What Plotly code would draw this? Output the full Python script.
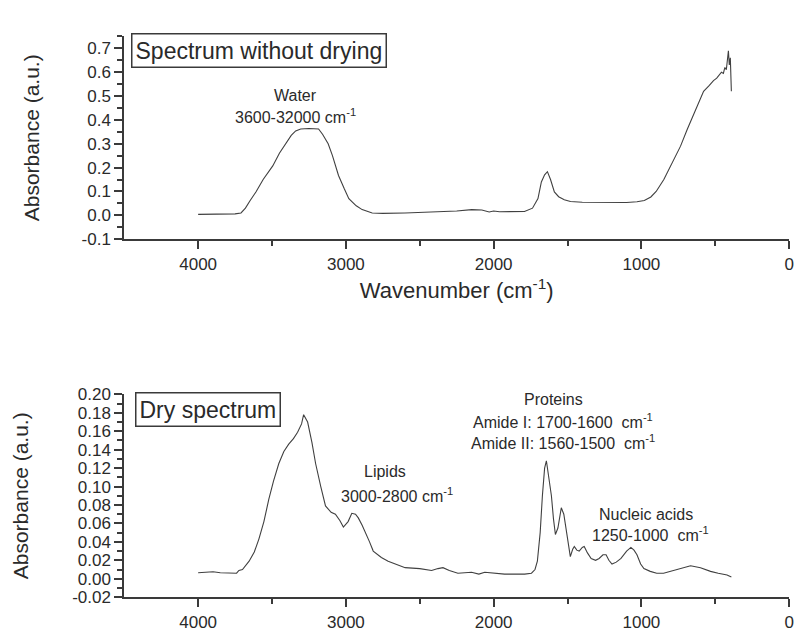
import plotly.graph_objects as go

# ---- Data: spectrum without drying (wavenumber cm-1, absorbance) ----
wet_wn = [4000, 3850, 3750, 3710, 3680, 3650, 3609, 3560, 3495, 3450, 3407, 3370, 3340, 3306,
          3250, 3185, 3158, 3120, 3091, 3050, 3010, 2980, 2930, 2890, 2822, 2750, 2600,
          2400, 2250, 2148, 2080, 2030, 2000, 1960, 1900, 1791, 1737, 1700, 1677, 1655,
          1636, 1615, 1589, 1560, 1522, 1480, 1400, 1253, 1100, 1030, 980, 936, 900, 848,
          800, 735, 690, 647, 579, 540, 512, 490, 470, 458, 445, 435, 425, 418, 411, 405,
          398, 391]
wet_abs = [0.004, 0.004, 0.006, 0.01, 0.03, 0.06, 0.098, 0.15, 0.207, 0.26, 0.30, 0.335, 0.354,
           0.362, 0.364, 0.362, 0.34, 0.30, 0.25, 0.167, 0.11, 0.07, 0.04, 0.024, 0.01,
           0.008, 0.01, 0.013, 0.018, 0.024, 0.022, 0.014, 0.018, 0.015, 0.016, 0.016,
           0.03, 0.07, 0.14, 0.17, 0.183, 0.15, 0.098, 0.078, 0.065, 0.058, 0.055, 0.053,
           0.054, 0.057, 0.062, 0.077, 0.10, 0.15, 0.21, 0.29, 0.36, 0.42, 0.52, 0.545,
           0.565, 0.575, 0.59, 0.60, 0.595, 0.62, 0.61, 0.645, 0.69, 0.63, 0.66, 0.52]

# ---- Data: dry spectrum ----
dry_wn = [4000, 3950, 3899, 3850, 3800, 3764, 3740, 3724, 3700, 3655, 3620, 3589, 3555,
          3522, 3490, 3454, 3420, 3387, 3355, 3327, 3300, 3286, 3259, 3230, 3205, 3170,
          3138, 3100, 3071, 3040, 3017, 2985, 2960, 2935, 2916, 2890, 2869, 2840, 2815,
          2760, 2714, 2650, 2599, 2500, 2420, 2377, 2343, 2300, 2242, 2150, 2100, 2060,
          2000, 1926, 1850, 1790, 1744, 1720, 1704, 1685, 1670, 1655, 1643, 1625, 1609,
          1595, 1582, 1565, 1542, 1525, 1508, 1495, 1481, 1465, 1454, 1437, 1421, 1400,
          1387, 1365, 1340, 1310, 1286, 1260, 1239, 1220, 1199, 1170, 1138, 1100, 1071,
          1050, 1030, 1005, 983, 940, 896, 850, 801, 740, 667, 600, 532, 480, 444, 420, 391]
dry_abs = [0.0065, 0.0068, 0.0075, 0.0065, 0.006, 0.0055, 0.006, 0.009, 0.01, 0.019,
           0.029, 0.043, 0.062, 0.086, 0.106, 0.125, 0.138, 0.146, 0.152, 0.159, 0.168,
           0.178, 0.17, 0.148, 0.125, 0.10, 0.079, 0.072, 0.07, 0.063, 0.056, 0.062, 0.071,
           0.07, 0.066, 0.058, 0.051, 0.04, 0.03, 0.023, 0.019, 0.015, 0.012, 0.011, 0.009,
           0.011, 0.012, 0.009, 0.006, 0.007, 0.005, 0.007, 0.006, 0.005, 0.005, 0.005,
           0.006, 0.01, 0.019, 0.05, 0.09, 0.12, 0.128, 0.11, 0.09, 0.065, 0.048, 0.055,
           0.077, 0.07, 0.051, 0.035, 0.024, 0.032, 0.035, 0.031, 0.03, 0.034, 0.035, 0.028,
           0.022, 0.02, 0.022, 0.026, 0.026, 0.02, 0.016, 0.018, 0.022, 0.03, 0.034, 0.031,
           0.026, 0.016, 0.011, 0.008, 0.006, 0.006, 0.008, 0.011, 0.014, 0.012, 0.008,
           0.006, 0.005, 0.004, 0.002]

x_ticks = [4000, 3000, 2000, 1000, 0]
x_tick_labels = ["4000", "3000", "2000", "1000", "0"]
y1_ticks = [-0.1, 0.0, 0.1, 0.2, 0.3, 0.4, 0.5, 0.6, 0.7]
y1_tick_labels = ["-0.1", "0.0", "0.1", "0.2", "0.3", "0.4", "0.5", "0.6", "0.7"]
y2_ticks = [-0.02, 0.0, 0.02, 0.04, 0.06, 0.08, 0.10, 0.12, 0.14, 0.16, 0.18, 0.20]
y2_tick_labels = ["-0.02", "0.00", "0.02", "0.04", "0.06", "0.08", "0.10", "0.12",
                  "0.14", "0.16", "0.18", "0.20"]

FONT = "Liberation Sans, Arial, sans-serif"
AX = "#3a3a3a"
TXT = "#2a2a2a"
W, H = 807, 637

def px_x(p):
    return p / W

def px_y(p):
    return 1 - p / H

fig = go.Figure()
fig.add_trace(go.Scatter(x=wet_wn, y=wet_abs, mode="lines", xaxis="x", yaxis="y",
                         line=dict(color="#404040", width=1.1), showlegend=False))
fig.add_trace(go.Scatter(x=dry_wn, y=dry_abs, mode="lines", xaxis="x2", yaxis="y2",
                         line=dict(color="#404040", width=1.1), showlegend=False))

def xaxis(domain, anchor, title=None):
    d = dict(domain=domain, anchor=anchor, range=[4500, 0], autorange=False,
             tickvals=x_ticks, ticktext=x_tick_labels,
             ticks="outside", ticklen=8, tickwidth=2, tickcolor=AX,
             showline=True, linecolor=AX, linewidth=2, showgrid=False, zeroline=False,
             minor=dict(tickvals=[3500, 2500, 1500, 500], ticks="outside", ticklen=5,
                        tickwidth=2, tickcolor=AX, showgrid=False),
             tickfont=dict(family=FONT, size=17, color=TXT))
    if title:
        d["title"] = dict(text=title, font=dict(family=FONT, size=22, color=TXT), standoff=10)
    return d

def yaxis(domain, anchor, rng, vals, labels, minor_dt, standoff):
    return dict(domain=domain, anchor=anchor, range=rng, autorange=False,
                tickvals=vals, ticktext=labels,
                ticks="outside", ticklen=8, tickwidth=2, tickcolor=AX,
                showline=True, linecolor=AX, linewidth=2, showgrid=False, zeroline=False,
                minor=dict(dtick=minor_dt, tick0=0, ticks="outside", ticklen=5, tickwidth=1.5,
                           tickcolor=AX, showgrid=False),
                tickfont=dict(family=FONT, size=17, color=TXT),
                title=dict(text="Absorbance (a.u.)", font=dict(family=FONT, size=21, color=TXT),
                           standoff=standoff))

xd = [px_x(117), px_x(786)]
fig.update_layout(
    width=W, height=H,
    margin=dict(l=0, r=0, t=0, b=0),
    paper_bgcolor="white", plot_bgcolor="white",
    xaxis=xaxis(xd, "y", "Wavenumber (cm<sup>-1</sup>)"),
    yaxis=yaxis([px_y(229), px_y(20)], "x", [-0.1, 0.75], y1_ticks, y1_tick_labels, 0.05, 36),
    xaxis2=xaxis(xd, "y2"),
    yaxis2=yaxis([px_y(598), px_y(389)], "x2", [-0.02, 0.2], y2_ticks, y2_tick_labels, 0.01, 38),
)

ann_font = dict(family=FONT, size=16, color=TXT)
box_font = dict(family=FONT, size=23, color=TXT)
anns = [
    # boxed panel labels
    dict(text="Spectrum without drying", xref="paper", yref="paper", x=px_x(253), y=px_y(35),
         font=box_font, bordercolor=AX, borderwidth=1.5, borderpad=3, bgcolor="white"),
    dict(text="Dry spectrum", xref="paper", yref="paper", x=px_x(201), y=px_y(405),
         font=box_font, bordercolor=AX, borderwidth=1.5, borderpad=3, bgcolor="white"),
    # top panel
    dict(text="Water", xref="x", yref="y", x=3340, y=0.504, font=ann_font),
    dict(text="3600-32000 cm<sup>-1</sup>", xref="x", yref="y", x=3340, y=0.415, font=ann_font),
    # bottom panel
    dict(text="Lipids", xref="x2", yref="y2", x=2734, y=0.116, font=ann_font),
    dict(text="3000-2800 cm<sup>-1</sup>", xref="x2", yref="y2", x=2653, y=0.091, font=ann_font),
    dict(text="Proteins", xref="x2", yref="y2", x=1596, y=0.195, font=ann_font),
    dict(text="Amide I: 1700-1600  cm<sup>-1</sup>", xref="x2", yref="y2", x=1529, y=0.171, font=ann_font),
    dict(text="Amide II: 1560-1500  cm<sup>-1</sup>", xref="x2", yref="y2", x=1529, y=0.148, font=ann_font),
    dict(text="Nucleic acids", xref="x2", yref="y2", x=970, y=0.070, font=ann_font),
    dict(text="1250-1000  cm<sup>-1</sup>", xref="x2", yref="y2", x=936, y=0.048, font=ann_font),
]
for a in anns:
    a.setdefault("showarrow", False)
    a.setdefault("xanchor", "center")
    a.setdefault("yanchor", "middle")
    fig.add_annotation(**a)

fig.write_html("out.html")
